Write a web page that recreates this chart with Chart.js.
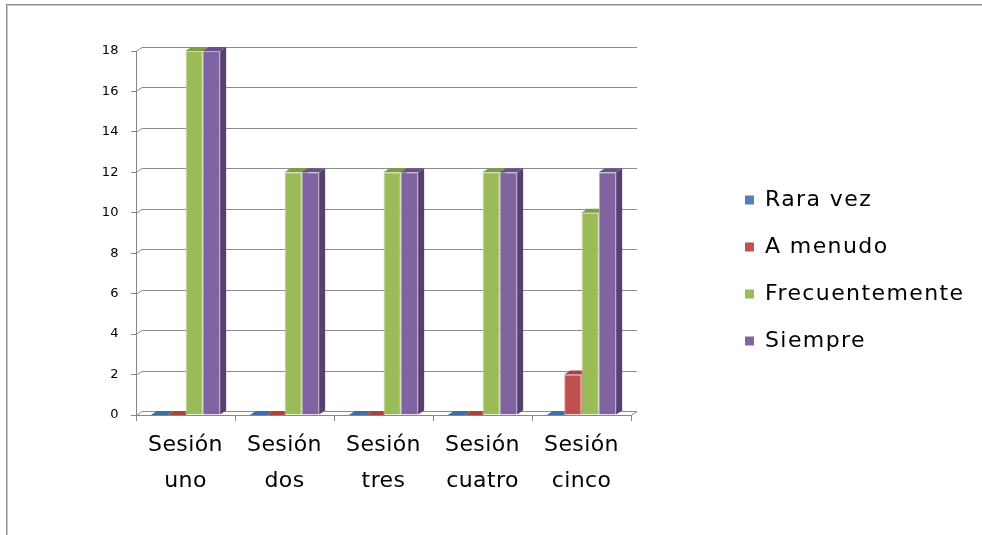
<!DOCTYPE html>
<html>
<head>
<meta charset="utf-8">
<script src="https://cdn.jsdelivr.net/npm/chart.js@4/dist/chart.umd.min.js"></script>
<style>
  html, body { margin: 0; padding: 0; background: #fff; }
  #wrap { position: relative; width: 982px; height: 535px; }
  #frame { position: absolute; left: 6px; top: 4px; right: 0; bottom: 0;
           border-top: 1px solid #8e8e8e; border-left: 1px solid #8e8e8e;
           box-shadow: inset 1px 1px 0 #c8c8c8; pointer-events: none; }
  canvas { display: block; }
</style>
</head>
<body>
<div id="wrap">
  <canvas id="c" width="982" height="535"></canvas>
  <div id="frame"></div>
</div>
<script>
// ---- data ----
const categories = [['Sesión', 'uno'], ['Sesión', 'dos'], ['Sesión', 'tres'], ['Sesión', 'cuatro'], ['Sesión', 'cinco']];
const seriesNames = ['Rara vez', 'A menudo', 'Frecuentemente', 'Siempre'];
const raraVez = [0, 0, 0, 0, 0];
const aMenudo = [0, 0, 0, 0, 2];
const frecuentemente = [18, 12, 12, 12, 10];
const siempre = [18, 12, 12, 12, 12];
const yMin = 0, yMax = 18, yStep = 2;

// ---- styles ----
const frontColors = ['#4F81BD', '#C0504D', '#9BBB59', '#8064A2'];
const edgeColors  = ['#a7c0de', '#e0a7a6', '#cddcac', '#bfb1d0'];
const topColors   = ['#3f6ea6', '#a8423f', '#7f9c45', '#6a5088'];
const sideColors  = ['#34598a', '#8c3633', '#6a8438', '#574070'];
const DX = 6, DY = 4;
const LEGEND_LEFT = 720;

Chart.defaults.font.family = "'DejaVu Sans', sans-serif";
Chart.defaults.color = '#000';

const seriesValues = [raraVez, aMenudo, frecuentemente, siempre];

const threeD = {
  id: 'threeD',
  afterLayout(chart) {
    const lg = chart.legend;
    if (lg) {
      lg.left = LEGEND_LEFT;
      lg.right = chart.width;
      lg.width = lg.right - lg.left;
    }
  },
  beforeDraw(chart) { chart.ctx.letterSpacing = '1.4px'; },
  beforeDatasetsDraw(chart) {
    const ctx = chart.ctx;
    ctx.letterSpacing = '0.4px';
    const { left, right } = chart.chartArea;
    const ys = chart.scales.y;
    ctx.save();
    ctx.strokeStyle = '#8c8c8c';
    ctx.lineWidth = 1;
    ys.ticks.forEach(t => {
      const y = Math.round(ys.getPixelForValue(t.value)) + 0.5;
      ctx.beginPath();
      ctx.moveTo(left, y);
      ctx.lineTo(left + DX, y - DY);
      ctx.lineTo(right + DX, y - DY);
      if (t.value === yMin) ctx.lineTo(right, y);
      ctx.stroke();
    });
    chart.data.datasets.forEach((ds, i) => {
      const meta = chart.getDatasetMeta(i);
      meta.data.forEach(bar => {
        const { x, y, base, width } = bar.getProps(['x', 'y', 'base', 'width'], true);
        const l = x - width / 2, r = x + width / 2;
        ctx.fillStyle = topColors[i];
        ctx.beginPath();
        ctx.moveTo(l, y);
        ctx.lineTo(l + DX, y - DY);
        ctx.lineTo(r + DX, y - DY);
        ctx.lineTo(r, y);
        ctx.closePath();
        ctx.fill();
        ctx.fillStyle = sideColors[i];
        ctx.beginPath();
        ctx.moveTo(r, y);
        ctx.lineTo(r + DX, y - DY);
        ctx.lineTo(r + DX, base - DY);
        ctx.lineTo(r, base);
        ctx.closePath();
        ctx.fill();
      });
    });
    ctx.restore();
  }
};

const datasets = seriesNames.map((name, i) => ({
  label: name,
  data: seriesValues[i],
  backgroundColor: frontColors[i],
  borderColor: edgeColors[i],
  borderWidth: 1,
  yAxisID: 'y',
  categoryPercentage: 0.7,
  barPercentage: 1.0
}));

new Chart(document.getElementById('c'), {
  type: 'bar',
  data: { labels: categories, datasets },
  plugins: [threeD],
  options: {
    responsive: false,
    animation: false,
    layout: { padding: { left: 10, right: 144, top: 51, bottom: 45 } },
    plugins: {
      tooltip: { enabled: false },
      legend: {
        position: 'right',
        align: 'center',
        labels: {
          boxWidth: 9,
          boxHeight: 9,
          padding: 25,
          color: '#000',
          font: { size: 22 },
          generateLabels: (chart) => Chart.defaults.plugins.legend.labels.generateLabels(chart)
            .map(l => Object.assign(l, { lineWidth: 0, strokeStyle: l.fillStyle }))
        }
      }
    },
    scales: {
      x: {
        offset: true,
        grid: { display: true, offset: true, drawOnChartArea: false, drawTicks: true, tickLength: 6, color: '#868686' },
        border: { display: true, color: '#868686' },
        ticks: { z: 1, autoSkip: false, maxRotation: 0, padding: 7, color: '#000', font: { size: 22, lineHeight: 1.6 } },
        afterFit(s) { s.height = 75; }
      },
      y: {
        min: yMin, max: yMax,
        ticks: { z: 1, stepSize: yStep, padding: 12, color: '#000', font: { size: 13 } },
        grid: { display: true, drawOnChartArea: false, drawTicks: true, tickLength: 5, color: '#868686' },
        border: { display: true, color: '#868686' },
        afterFit(s) { s.width = 126; }
      }
    }
  }
});
</script>
</body>
</html>
